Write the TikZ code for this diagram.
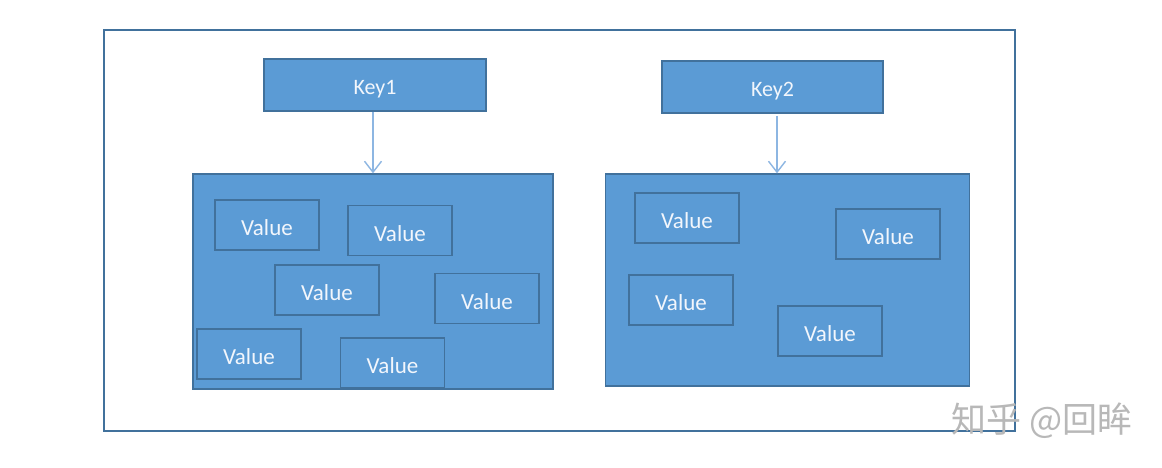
\documentclass[tikz,border=0pt]{standalone}
\usepackage{fontspec}
\setmainfont{Carlito}
\newfontfamily\cjkfont{Noto Sans CJK SC}
\usetikzlibrary{arrows.meta}
\definecolor{fillblue}{HTML}{5B9BD5}
\definecolor{edgeblue}{HTML}{41719C}
\definecolor{arrowblue}{HTML}{8DB6E2}
\definecolor{textwhite}{HTML}{F2F6FC}
\definecolor{wmgray}{HTML}{B8B8B8}
\tikzset{
  keybox/.style={draw=edgeblue, fill=fillblue, line width=1.3pt, minimum width=222pt, minimum height=52pt, inner sep=0pt, text=textwhite, font=\fontsize{22}{26}\selectfont, text height=20pt, text depth=0pt},
  bigbox/.style={draw=edgeblue, fill=fillblue, line width=1.3pt, inner sep=0pt},
  valbox/.style={draw=edgeblue, line width=1.6pt, minimum width=104pt, minimum height=50pt, inner sep=0pt, text=textwhite, font=\fontsize{23}{27}\selectfont, text height=21.4pt, text depth=0pt},
  link/.style={draw=arrowblue, line width=1.4pt, -{Straight Barb[length=11pt,width=17pt,line width=1.4pt]}},
}
\begin{document}
\begin{tikzpicture}[x=1pt,y=-1pt]
\useasboundingbox[fill=white] (0,0) rectangle (1162,468);
% outer frame
\node[draw=edgeblue, line width=1.3pt, minimum width=911pt, minimum height=401pt, inner sep=0pt] (frame) at (559.5,230.5) {};
% keys
\node[keybox] (key1) at (375,85) {Key1};
\node[keybox, minimum width=221pt] (key2) at (772.5,87) {Key2};
% big boxes
\node[bigbox, minimum width=360pt, minimum height=215pt] (box1) at (373,281.5) {};
\node[bigbox, minimum width=364pt, minimum height=212pt] (box2) at (787.5,280) {};
% values in box1
\node[valbox] (v11) at (267,225) {Value};
\node[valbox] (v12) at (400,230.5) {Value};
\node[valbox] (v13) at (327,290) {Value};
\node[valbox] (v14) at (487,298.5) {Value};
\node[valbox] (v15) at (249,354) {Value};
\node[valbox] (v16) at (392.5,363) {Value};
% values in box2
\node[valbox] (v21) at (687,218) {Value};
\node[valbox] (v22) at (888,234) {Value};
\node[valbox] (v23) at (681,300) {Value};
\node[valbox] (v24) at (830,331) {Value};
% arrows
\coordinate (a1s) at (373,112);
\coordinate (a2s) at (777,116);
\draw[link] (a1s) -- (a1s |- box1.north);
\draw[link] (a2s) -- (a2s |- box2.north);
% watermark
\node[text=wmgray, font=\cjkfont\fontsize{35}{39}\selectfont, anchor=center, inner sep=0pt] (wm) at (1042,421) {知乎 @回眸};
\end{tikzpicture}
\end{document}
